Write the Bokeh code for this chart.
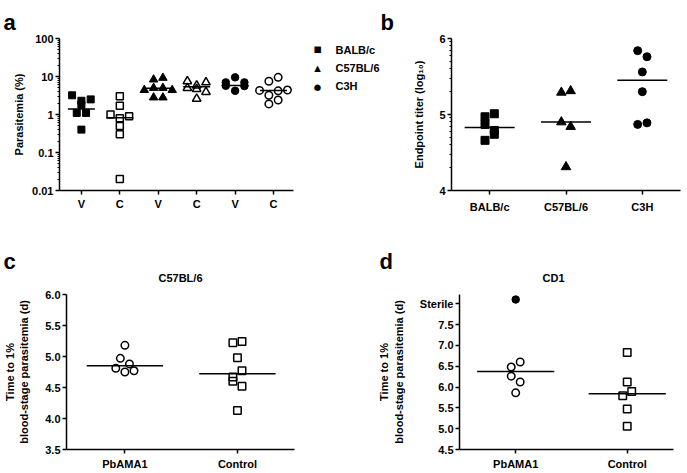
import math
from bokeh.plotting import figure
from bokeh.layouts import column, row
from bokeh.models import (FixedTicker, LinearAxis, Label, Range1d,
                          PrintfTickFormatter)
from bokeh.embed import file_html
from bokeh.resources import INLINE

FONT = "Liberation Sans"

# ---------------- data ----------------
# panel a : parasitemia (%)
a_ticks_labels = ["V", "C", "V", "C", "V", "C"]
strains = ["BALB/c", "C57BL/6", "C3H"]
strain_symbols = ["\u25a0", "\u25b2", "\u25cf"]
balb_v = [3.2, 2.3, 2.5, 1.8, 1.1, 1.1, 0.4]
balb_c = [3.0, 1.7, 1.0, 0.8, 0.9, 0.5, 0.3, 0.02]
c57_v = [8.3, 9.2, 4.4, 5.0, 5.0, 4.4, 2.8, 2.8]
c57_c = [7.5, 5.8, 7.0, 5.0, 4.7, 3.9, 2.6]
c3h_v = [7.0, 9.5, 7.0, 5.7, 4.2, 5.6]
c3h_c = [7.5, 9.5, 4.3, 3.2, 4.2, 4.4, 1.9, 2.4]
a_lines = [1.4, 0.82, 4.9, 5.4, 5.8, 4.3]
a_yticks = [0.01, 0.1, 1, 10, 100]
a_ytick_labels = ["0.01", "0.1", "1", "10", "100"]

# panel b : endpoint titer (log10)
b_balb = [4.97, 5.01, 4.87, 4.79, 4.66, 4.74]
b_c57 = [5.29, 5.31, 4.90, 4.84, 4.31]
b_c3h = [5.84, 5.76, 5.56, 5.30, 4.87, 4.89]
b_lines = [4.83, 4.90, 5.45]
b_yticks = [4, 5, 6]

# panel c : C57BL/6 time to 1% parasitemia (d)
cd_groups = ["PbAMA1", "Control"]
c_pbama1 = [5.18, 4.97, 4.88, 4.81, 4.75, 4.77]
c_control = [5.22, 5.24, 4.98, 4.67, 4.77, 4.60, 4.52, 4.13]
c_lines = [4.85, 4.72]
c_yticks = [3.5, 4.0, 4.5, 5.0, 5.5, 6.0]

# panel d : CD1 time to 1% parasitemia (d)
d_pbama1 = [6.48, 6.60, 6.26, 6.12, 5.86]
d_pbama1_sterile = [8.1]
d_control = [6.83, 6.12, 5.79, 5.89, 5.47, 5.06]
d_lines = [6.37, 5.84]
d_yticks = [4.5, 5.0, 5.5, 6.0, 6.5, 7.0, 7.5, 8.0]
d_sterile_tick = 8.0


# ---------------- helpers ----------------
def swarm(vals, center, px_y, px_x, log=False, step_px=9.3, row_px=6.5):
    """Prism-like scatter spread: points close in y share a centred row."""
    ys = [(math.log10(v) if log else v) * px_y for v in vals]
    order = sorted(range(len(vals)), key=lambda i: (-ys[i], i))
    rows = []
    for i in order:
        if rows and ys[rows[-1][0]] - ys[i] <= row_px:
            rows[-1].append(i)
        else:
            rows.append([i])
    xs = [0.0] * len(vals)
    for r in rows:
        r = sorted(r)
        n = len(r)
        for j, i in enumerate(r):
            xs[i] = center + (j - (n - 1) / 2.0) * step_px / px_x
    return xs


def style(p, ylab_standoff, xlab_standoff):
    p.outline_line_color = None
    p.xgrid.visible = False
    p.ygrid.visible = False
    p.background_fill_color = "white"
    p.border_fill_color = "white"
    for ax in p.axis:
        ax.axis_line_width = 1.5
        ax.axis_line_color = "black"
        ax.major_tick_line_width = 1.5
        ax.major_tick_line_color = "black"
        ax.minor_tick_line_width = 1
        ax.minor_tick_line_color = "black"
        ax.major_tick_in = 0
        ax.major_tick_out = 4
        ax.minor_tick_in = 0
        ax.minor_tick_out = 2
        ax.major_label_text_font = FONT
        ax.major_label_text_font_style = "bold"
        ax.major_label_text_font_size = "11px"
        ax.major_label_text_color = "black"
        ax.axis_label_text_font = FONT
        ax.axis_label_text_font_style = "bold"
        ax.axis_label_text_font_size = "11px"
        ax.axis_label_text_color = "black"
        ax.major_label_standoff = 2
    p.yaxis.axis_label_standoff = ylab_standoff
    p.xaxis.major_label_standoff = xlab_standoff


def canvas_text(p, side, txt, x, y, size="22px", align="left",
                baseline="alphabetic", font=FONT, style_="bold",
                line_height=1.2):
    # x, y: canvas pixels of this figure (origin top-left)
    p.add_layout(Label(x=x, y=y, x_units="canvas", y_units="canvas", text=txt,
                       text_font=font, text_font_style=style_,
                       text_font_size=size, text_color="black",
                       text_align=align, text_baseline=baseline,
                       text_line_height=line_height), side)


def lines(p, centers, vals, half):
    p.segment(x0=[c - half for c in centers], x1=[c + half for c in centers],
              y0=vals, y1=vals, line_color="black", line_width=1.5)


def outer_label(p, text):
    ax = LinearAxis(axis_label=text, ticker=FixedTicker(ticks=[]),
                    axis_line_color=None, major_tick_line_color=None,
                    minor_tick_line_color=None, major_tick_out=0,
                    minor_tick_out=0, major_tick_in=0, minor_tick_in=0,
                    axis_label_standoff=0,
                    axis_label_text_font=FONT,
                    axis_label_text_font_style="bold",
                    axis_label_text_font_size="11px",
                    axis_label_text_color="black")
    p.add_layout(ax, "left")


# ---------------- panel a ----------------
AW, AH = 380, 240
a_l, a_r, a_t, a_b = 59, 87, 38, 49
a_x0, a_x1 = 0.43, 6.52
pa = figure(width=AW, height=AH, y_axis_type="log", title=None,
            x_range=Range1d(a_x0, a_x1), y_range=Range1d(0.01, 100),
            output_backend="svg", toolbar_location=None,
            min_border_left=a_l, min_border_right=a_r,
            min_border_top=a_t, min_border_bottom=a_b)
a_pxx = (AW - a_l - a_r) / (a_x1 - a_x0)
a_pxy = (AH - a_t - a_b) / 4.0
a_pos = list(range(1, 7))

groups_a = [
    (balb_v, "square", 7, True),
    (balb_c, "square", 7, False),
    (c57_v, "triangle", 8.5, True),
    (c57_c, "triangle", 8.5, False),
    (c3h_v, "circle", 7.5, True),
    (c3h_c, "circle", 7.5, False),
]
for pos, (vals, mk, sz, filled) in zip(a_pos, groups_a):
    xs = swarm(vals, pos, a_pxy, a_pxx, log=True)
    pa.scatter(x=xs, y=vals, marker=mk, size=sz,
               fill_color="black" if filled else None,
               line_color="black", line_width=1.5 if not filled else 1)
lines(pa, a_pos, a_lines, 13.5 / a_pxx)

pa.yaxis.ticker = FixedTicker(
    ticks=a_yticks,
    minor_ticks=[k * 10.0 ** e for e in range(-2, 2) for k in range(2, 10)])
pa.yaxis.major_label_overrides = dict(zip(a_yticks, a_ytick_labels))
pa.xaxis.ticker = FixedTicker(ticks=a_pos)
pa.xaxis.major_label_overrides = dict(zip(a_pos, a_ticks_labels))
pa.yaxis.axis_label = "Parasitemia (%)"
style(pa, 4, 3)

# legend (outside the frame): symbols + strain names
canvas_text(pa, "right", "\n".join(strains), 335, 67.5, size="11px",
            baseline="middle", line_height=16.5 / 11.0)
canvas_text(pa, "right", "\n".join(strain_symbols), 317, 67.5, size="8.5px",
            align="center", baseline="middle", font="DejaVu Sans",
            style_="normal", line_height=16.5 / 8.5)
canvas_text(pa, "above", "a", 3, 22)

# ---------------- panel b ----------------
BW, BH = 307, 240
b_l, b_r, b_t, b_b = 71, 7, 38, 50
b_x0, b_x1 = 0.5, 3.5
pb = figure(width=BW, height=BH, title=None,
            x_range=Range1d(b_x0, b_x1), y_range=Range1d(4, 6),
            output_backend="svg", toolbar_location=None,
            min_border_left=b_l, min_border_right=b_r,
            min_border_top=b_t, min_border_bottom=b_b)
b_pxx = (BW - b_l - b_r) / (b_x1 - b_x0)
b_pxy = (BH - b_t - b_b) / 2.0
b_pos = [1, 2, 3]
for pos, vals, mk, sz in zip(b_pos, [b_balb, b_c57, b_c3h],
                             ["square", "triangle", "circle"], [8, 9.5, 8]):
    xs = swarm(vals, pos, b_pxy, b_pxx)
    pb.scatter(x=xs, y=vals, marker=mk, size=sz, fill_color="black",
               line_color="black")
lines(pb, b_pos, b_lines, 25 / b_pxx)
pb.yaxis.ticker = FixedTicker(
    ticks=b_yticks,
    minor_ticks=[d + math.log10(k) for d in (4, 5) for k in range(2, 10)])
pb.xaxis.ticker = FixedTicker(ticks=b_pos)
pb.xaxis.major_label_overrides = dict(zip(b_pos, strains))
pb.yaxis.axis_label = "Endpoint titer (log\u2081\u2080)"
style(pb, 11, 6)
canvas_text(pb, "above", "b", 0, 22)

# ---------------- panel c ----------------
CW, CH = 374, 233
c_l, c_r, c_t, c_b = 61, 80, 54, 24
c_x0, c_x1 = 0.481, 2.507
pc = figure(width=CW, height=CH, title=None,
            x_range=Range1d(c_x0, c_x1), y_range=Range1d(3.5, 6.0),
            output_backend="svg", toolbar_location=None,
            min_border_left=c_l, min_border_right=c_r,
            min_border_top=c_t, min_border_bottom=c_b)
c_pxx = (CW - c_l - c_r) / (c_x1 - c_x0)
c_pxy = (CH - c_t - c_b) / 2.5
cd_pos = [1, 2]
pc.scatter(x=swarm(c_pbama1, 1, c_pxy, c_pxx), y=c_pbama1, marker="circle",
           size=7.5, fill_color=None, line_color="black", line_width=1.5)
pc.scatter(x=swarm(c_control, 2, c_pxy, c_pxx), y=c_control, marker="square",
           size=7.5, fill_color=None, line_color="black", line_width=1.5)
lines(pc, cd_pos, c_lines, 39 / c_pxx)
pc.yaxis.ticker = FixedTicker(ticks=c_yticks)
pc.yaxis.formatter = PrintfTickFormatter(format="%.1f")
pc.xaxis.ticker = FixedTicker(ticks=cd_pos)
pc.xaxis.major_label_overrides = dict(zip(cd_pos, cd_groups))
pc.yaxis.axis_label = "blood-stage parasitemia (d)"
style(pc, 12, 4)
outer_label(pc, "Time to 1%")
canvas_text(pc, "above", "c", 3, 21)
canvas_text(pc, "above", "C57BL/6", 180, 37, size="11px", align="center")

# ---------------- panel d ----------------
DW, DH = 313, 233
d_l, d_r, d_t, d_b = 77, 14, 54, 24
d_x0, d_x1 = 0.496, 2.415
d_y0, d_y1 = 4.5, 8.22
pd_ = figure(width=DW, height=DH, title=None,
             x_range=Range1d(d_x0, d_x1), y_range=Range1d(d_y0, d_y1),
             output_backend="svg", toolbar_location=None,
             min_border_left=d_l, min_border_right=d_r,
             min_border_top=d_t, min_border_bottom=d_b)
d_pxx = (DW - d_l - d_r) / (d_x1 - d_x0)
d_pxy = (DH - d_t - d_b) / (d_y1 - d_y0)
pd_.scatter(x=swarm(d_pbama1, 1, d_pxy, d_pxx), y=d_pbama1, marker="circle",
            size=7.5, fill_color=None, line_color="black", line_width=1.5)
pd_.scatter(x=swarm(d_pbama1_sterile, 1, d_pxy, d_pxx), y=d_pbama1_sterile,
            marker="circle", size=7.5, fill_color="black", line_color="black")
pd_.scatter(x=swarm(d_control, 2, d_pxy, d_pxx), y=d_control, marker="square",
            size=7.5, fill_color=None, line_color="black", line_width=1.5)
lines(pd_, cd_pos, d_lines, 40 / d_pxx)
pd_.yaxis.ticker = FixedTicker(ticks=d_yticks)
pd_.yaxis.formatter = PrintfTickFormatter(format="%.1f")
pd_.yaxis.major_label_overrides = {d_sterile_tick: "Sterile"}
pd_.xaxis.ticker = FixedTicker(ticks=cd_pos)
pd_.xaxis.major_label_overrides = dict(zip(cd_pos, cd_groups))
pd_.yaxis.axis_label = "blood-stage parasitemia (d)"
style(pd_, 12, 4)
outer_label(pd_, "Time to 1%")
canvas_text(pd_, "above", "d", 5, 21)
canvas_text(pd_, "above", "CD1", 179, 37, size="11px", align="center")

layout = column(row(pa, pb), row(pc, pd_))
open("out.html", "w").write(file_html(layout, INLINE))
